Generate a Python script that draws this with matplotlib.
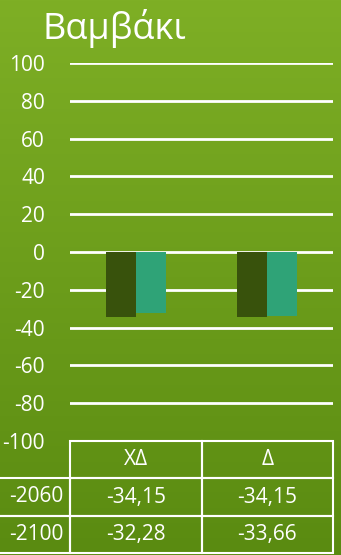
import numpy as np
import matplotlib.pyplot as plt
from matplotlib.table import Table
from matplotlib.colors import LinearSegmentedColormap

plt.rcParams['font.family'] = ['Open Sans', 'DejaVu Sans']

title = "Βαμβάκι"
categories = ["ΧΔ", "Δ"]
series_names = ["-2060", "-2100"]
values_2060 = [-34.15, -34.15]
values_2100 = [-32.28, -33.66]
value_labels_2060 = ["-34,15", "-34,15"]
value_labels_2100 = ["-32,28", "-33,66"]
yticks = [100, 80, 60, 40, 20, 0, -20, -40, -60, -80, -100]

bar_colors = ['#38520c', '#2fa377']

fig = plt.figure(figsize=(3.41, 5.55), dpi=100)

# green gradient backdrop over the whole figure
bg = fig.add_axes([0, 0, 1, 1], zorder=-1)
grad = np.linspace(0, 1, 256).reshape(-1, 1)
cmap = LinearSegmentedColormap.from_list('bg', ['#7eaf25', '#5a8b11'])
bg.imshow(grad, aspect='auto', cmap=cmap, extent=[0, 1, 0, 1])
bg.axis('off')

ax = fig.add_axes([70/341, 1 - 441/555, 263/341, 378/555])
ax.patch.set_alpha(0)

x = np.arange(len(categories))
w = 0.23
ax.bar(x - w/2, values_2060, w, color=bar_colors[0], zorder=3)
ax.bar(x + w/2, values_2100, w, color=bar_colors[1], zorder=3)

ax.set_xlim(-0.5, 1.5)
ax.set_ylim(-100, 100)
ax.set_yticks(yticks)
ax.set_yticklabels([str(t) for t in yticks], color='white', fontsize=15)
ax.tick_params(axis='y', length=0, pad=18)
ax.set_xticks([])
for t in yticks:
    ax.axhline(t, color='white', lw=2, zorder=2)
for s in ax.spines.values():
    s.set_visible(False)

fig.text(42/341, 1 - 39/555, title, color='white', fontsize=26, ha='left', va='baseline')

# data table under the plot (bbox covers the value cells, labels sit to the left)
lab_w = 70 / 263
col_w = 0.5
row_h = 1 / 3
tb = Table(ax, bbox=[0, -112/378, 1, 112/378])
for j, c in enumerate(categories):
    tb.add_cell(0, j, col_w, row_h, text=c, loc='center')
rows = [value_labels_2060, value_labels_2100]
for i, (name, vals) in enumerate(zip(series_names, rows), start=1):
    cell = tb.add_cell(i, -1, lab_w, row_h, text=name, loc='right')
    cell.visible_edges = 'TBR'
    cell.PAD = 0.1
    for j, v in enumerate(vals):
        tb.add_cell(i, j, col_w, row_h, text=v, loc='center')
tb.auto_set_font_size(False)
for cell in tb.get_celld().values():
    cell.set_facecolor('none')
    cell.set_edgecolor('white')
    cell.set_linewidth(1.5)
    cell.get_text().set_color('white')
    cell.get_text().set_fontsize(15)
ax.add_table(tb)

fig.savefig('out.png', dpi=100)
